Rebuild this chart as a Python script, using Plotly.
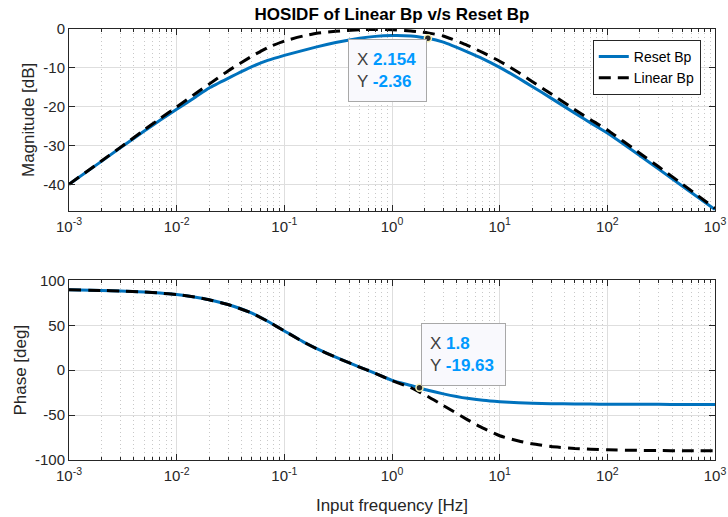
import numpy as np
import plotly.graph_objects as go

# Input frequency samples [Hz]
freq_hz = [0.001, 0.002, 0.003, 0.005, 0.007, 0.01, 0.015, 0.02, 0.03, 0.05,
           0.07, 0.1, 0.15, 0.2, 0.3, 0.5, 0.7, 1.0, 1.5, 1.8,
           2.154, 3.0, 5.0, 7.0, 10.0, 15.0, 20.0, 30.0, 50.0, 70.0,
           100.0, 200.0, 300.0, 500.0, 1000.0]

# Magnitude [dB]
mag_reset_db = [-40.0, -34.1, -30.6, -26.3, -23.5, -20.7, -17.5, -15.2, -12.7, -9.7,
                -8.1, -6.8, -5.5, -4.6, -3.5, -2.4, -1.9, -1.7, -1.8, -2.05,
                -2.36, -3.4, -5.9, -7.7, -9.9, -12.7, -14.8, -17.8, -21.7, -24.2,
                -26.8, -32.6, -36.1, -40.5, -46.5]
mag_linear_db = [-40.0, -34.0, -30.5, -26.0, -23.1, -20.1, -16.6, -14.2, -10.8, -7.0,
                 -4.8, -3.1, -1.8, -1.1, -0.6, -0.2, -0.1, -0.2, -0.5, -0.75,
                 -1.0, -1.8, -4.2, -6.1, -8.3, -11.2, -13.5, -16.7, -20.8, -23.4,
                 -26.0, -32.0, -35.5, -40.0, -46.2]

# Phase [deg]
phase_reset_deg = [89.6, 88.9, 88.3, 87.1, 86.0, 84.3, 81.4, 78.6, 73.2, 63.6,
                   54.6, 43.8, 31.6, 24.0, 14.5, 3.5, -3.5, -11.3, -17.0, -19.63,
                   -22.3, -26.3, -31.3, -33.5, -35.0, -36.2, -36.7, -37.2, -37.5, -37.7,
                   -37.8, -38.0, -38.0, -38.1, -38.1]
phase_linear_deg = [89.6, 88.9, 88.3, 87.1, 86.0, 84.3, 81.4, 78.6, 73.2, 63.6,
                    54.6, 43.8, 31.6, 24.0, 14.5, 3.5, -3.5, -11.5, -19.5, -24.3,
                    -29.2, -39.3, -55.0, -64.5, -73.0, -78.8, -82.0, -85.0, -87.2, -88.0,
                    -88.7, -89.3, -89.5, -89.7, -89.8]

# Tick values and labels
decade_ticks = [1e-3, 1e-2, 1e-1, 1e0, 1e1, 1e2, 1e3]
decade_labels = ["10<sup>-3</sup>", "10<sup>-2</sup>", "10<sup>-1</sup>", "10<sup>0</sup>",
                 "10<sup>1</sup>", "10<sup>2</sup>", "10<sup>3</sup>"]
mag_ticks = [-40, -30, -20, -10, 0]
mag_labels = ["-40", "-30", "-20", "-10", "0"]
phase_ticks = [-100, -50, 0, 50, 100]
phase_labels = ["-100", "-50", "0", "50", "100"]

# Frequencies marked with data tips
tip_mag_freq = 2.154
tip_phase_freq = 1.8

FONT = "Liberation Sans, Arial, Helvetica, sans-serif"
INK = "#262626"
BLUE = "#0072BD"
TIP_BLUE = "#0099ff"

minor_ticks = [m * d for d in decade_ticks[:-1] for m in range(2, 10)]


def x_axis(anchor, title=None):
    ax = dict(
        type="log", range=[-3, 3], anchor=anchor, automargin=False,
        tickmode="array", tickvals=decade_ticks, ticktext=decade_labels,
        ticks="inside", ticklen=6, tickcolor=INK, tickwidth=1,
        showline=True, linecolor=INK, linewidth=1, mirror="allticks",
        showgrid=True, gridcolor="#dedede", gridwidth=1,
        minor=dict(tickmode="array", tickvals=minor_ticks, ticks="inside", ticklen=3,
                   tickcolor=INK, showgrid=True, gridcolor="#c8c8c8",
                   griddash="1px,3px", gridwidth=1),
        tickfont=dict(family=FONT, size=15, color=INK),
        ticklabelstandoff=2,
        zeroline=False,
    )
    if title:
        ax["title"] = dict(text=title, font=dict(family=FONT, size=17, color=INK), standoff=16)
    return ax


def y_axis(anchor, domain, rng, tvals, tlabels, title):
    return dict(
        domain=domain, anchor=anchor, range=rng, automargin=False,
        tickmode="array", tickvals=tvals, ticktext=tlabels,
        ticks="inside", ticklen=6, tickcolor=INK, tickwidth=1,
        showline=True, linecolor=INK, linewidth=1, mirror="allticks",
        showgrid=True, gridcolor="#dedede", gridwidth=1,
        tickfont=dict(family=FONT, size=15, color=INK),
        zeroline=False,
        title=dict(text=title, font=dict(family=FONT, size=17, color=INK), standoff=4),
    )


fig = go.Figure()

line_shape = dict(shape="spline", smoothing=0.5)

# Magnitude subplot
fig.add_trace(go.Scatter(x=freq_hz, y=mag_reset_db, mode="lines", name="Reset Bp",
                         line=dict(color=BLUE, width=3, **line_shape),
                         xaxis="x", yaxis="y"))
fig.add_trace(go.Scatter(x=freq_hz, y=mag_linear_db, mode="lines", name="Linear Bp",
                         line=dict(color="black", width=3, dash="12px,7px", **line_shape),
                         xaxis="x", yaxis="y"))

# Phase subplot
fig.add_trace(go.Scatter(x=freq_hz, y=phase_reset_deg, mode="lines", name="Reset Bp",
                         showlegend=False,
                         line=dict(color=BLUE, width=3, **line_shape),
                         xaxis="x2", yaxis="y2"))
fig.add_trace(go.Scatter(x=freq_hz, y=phase_linear_deg, mode="lines", name="Linear Bp",
                         showlegend=False,
                         line=dict(color="black", width=3, dash="12px,7px", **line_shape),
                         xaxis="x2", yaxis="y2"))

# Data tips
i_mag = freq_hz.index(tip_mag_freq)
i_ph = freq_hz.index(tip_phase_freq)
tip_marker = dict(color=INK, size=7, line=dict(color="#f4efb4", width=1.5))
fig.add_trace(go.Scatter(x=[freq_hz[i_mag]], y=[mag_reset_db[i_mag]], mode="markers",
                         marker=tip_marker, showlegend=False, xaxis="x", yaxis="y"))
fig.add_trace(go.Scatter(x=[freq_hz[i_ph]], y=[phase_reset_deg[i_ph]], mode="markers",
                         marker=tip_marker, showlegend=False, xaxis="x2", yaxis="y2"))


def tip_text(xv, yv):
    return (f"X <b><span style='color:{TIP_BLUE}'>{xv:g}</span></b><br>"
            f"Y <b><span style='color:{TIP_BLUE}'>{yv:.2f}</span></b>")


tip_style = dict(showarrow=False, align="left", valign="middle", bgcolor="#f9f9fd",
                 bordercolor="#a8a8a8", borderwidth=1, borderpad=8, height=45,
                 font=dict(family=FONT, size=17, color="#404040"))

annotations = [
    dict(x=np.log10(freq_hz[i_mag]), y=mag_reset_db[i_mag], xref="x", yref="y",
         text=tip_text(freq_hz[i_mag], mag_reset_db[i_mag]), width=61,
         xanchor="right", yanchor="top", xshift=-1, yshift=-1, **tip_style),
    dict(x=np.log10(freq_hz[i_ph]), y=phase_reset_deg[i_ph], xref="x2", yref="y2",
         text=tip_text(freq_hz[i_ph], phase_reset_deg[i_ph]), width=67,
         xanchor="left", yanchor="bottom", xshift=2, yshift=1.5, **tip_style),
]

fig.update_layout(
    width=728, height=517,
    margin=dict(l=69, r=13, t=29, b=57, autoexpand=False),
    paper_bgcolor="white", plot_bgcolor="white",
    font=dict(family=FONT, color=INK),
    title=dict(text="<b>HOSIDF of Linear Bp v/s Reset Bp</b>", xref="paper", x=0.5,
               xanchor="center", yref="container", y=1 - 14.5 / 517, yanchor="middle",
               font=dict(family=FONT, size=17, color="black")),
    xaxis=x_axis("y"),
    yaxis=y_axis("x", [0.5785, 1.0], [-46.8, 0], mag_ticks, mag_labels, "Magnitude [dB]"),
    xaxis2=x_axis("y2", "Input frequency [Hz]"),
    yaxis2=y_axis("x2", [0.0, 0.4165], [-100, 100], phase_ticks, phase_labels, "Phase [deg]"),
    legend=dict(x=0.978, y=0.9745, xanchor="right", yanchor="top", xref="paper", yref="paper",
                bgcolor="white", bordercolor=INK, borderwidth=1,
                font=dict(family=FONT, size=14, color="black"), tracegroupgap=0),
    annotations=annotations,
    showlegend=True,
)

fig.write_html("out.html")
